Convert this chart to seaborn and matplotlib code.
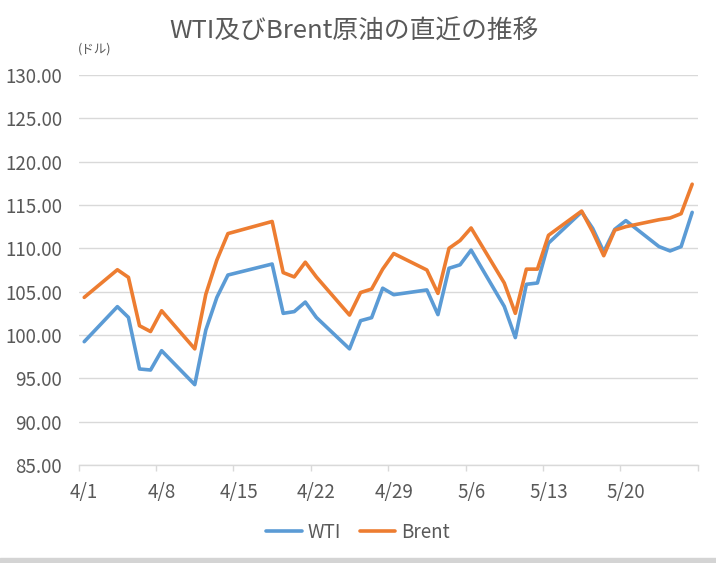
import pandas as pd
import numpy as np
import matplotlib
matplotlib.use("Agg")
import matplotlib.pyplot as plt
import matplotlib.dates as mdates
import seaborn as sns

# Trading days shown on the chart (4/15 is missing in the source data)
dates = ["2022-04-01", "2022-04-04", "2022-04-05", "2022-04-06", "2022-04-07", "2022-04-08",
         "2022-04-11", "2022-04-12", "2022-04-13", "2022-04-14",
         "2022-04-18", "2022-04-19", "2022-04-20", "2022-04-21", "2022-04-22",
         "2022-04-25", "2022-04-26", "2022-04-27", "2022-04-28", "2022-04-29",
         "2022-05-02", "2022-05-03", "2022-05-04", "2022-05-05", "2022-05-06",
         "2022-05-09", "2022-05-10", "2022-05-11", "2022-05-12", "2022-05-13",
         "2022-05-16", "2022-05-17", "2022-05-18", "2022-05-19", "2022-05-20",
         "2022-05-23", "2022-05-24", "2022-05-25", "2022-05-26"]

wti = [99.23, 103.27, 102.03, 96.08, 95.96, 98.19,
       94.27, 100.57, 104.34, 106.92,
       108.19, 102.5, 102.7, 103.8, 102.03,
       98.4, 101.65, 102.0, 105.4, 104.65,
       105.2, 102.35, 107.7, 108.1, 109.8,
       103.3, 99.7, 105.85, 106.0, 110.6,
       114.2, 112.3, 109.6, 112.2, 113.2,
       110.2, 109.7, 110.2, 114.15]

brent = [104.34, 107.53, 106.65, 101.07, 100.4, 102.8,
         98.4, 104.7, 108.65, 111.7,
         113.1, 107.2, 106.7, 108.4, 106.7,
         102.3, 104.9, 105.3, 107.6, 109.4,
         107.5, 104.8, 110.0, 110.9, 112.35,
         106.0, 102.5, 107.6, 107.6, 111.5,
         114.3, 111.9, 109.15, 112.1, 112.5,
         113.3, 113.5, 114.0, 117.4]

series_names = ["WTI", "Brent"]
colors = ["#5B9BD5", "#ED7D31"]
title = "WTI及びBrent原油の直近の推移"
unit = "(ドル)"
yticks = [85, 90, 95, 100, 105, 110, 115, 120, 125, 130]
xtick_labels = ["4/1", "4/8", "4/15", "4/22", "4/29", "5/6", "5/13", "5/20"]

df = pd.DataFrame({"date": pd.to_datetime(dates), "WTI": wti, "Brent": brent})
long_df = df.melt(id_vars="date", var_name="series", value_name="price")

sns.set_theme(style="white")
plt.rcParams["font.family"] = ["Noto Sans CJK JP", "DejaVu Sans"]
text_color = "#595959"
grid_color = "#D9D9D9"

fig = plt.figure(figsize=(7.16, 5.63), dpi=100)
ax = fig.add_axes([78.7 / 716, 98 / 563, 619 / 716, 390 / 563])

sns.lineplot(data=long_df, x="date", y="price", hue="series", hue_order=series_names,
             palette=colors, linewidth=2.6, ax=ax, legend=False)

# y axis
ax.set_ylim(85, 130)
ax.set_yticks(yticks)
ax.set_yticklabels([f"{v:.2f}" for v in yticks])
ax.yaxis.grid(True, color=grid_color, linewidth=1)
ax.set_axisbelow(True)

# x axis: date slots, labels centred in the slot, ticks at slot edges
first = pd.Timestamp("2022-04-01")
last = pd.Timestamp("2022-05-26")
half = pd.Timedelta(hours=12)
ax.set_xlim(first - half, last + half)
label_pos = [first + pd.Timedelta(days=7 * i) for i in range(len(xtick_labels))]
ax.set_xticks(label_pos)
ax.set_xticklabels(xtick_labels)
edge_pos = [first - half + pd.Timedelta(days=7 * i) for i in range(len(xtick_labels) + 1)]
ax.set_xticks(edge_pos, minor=True)

ax.tick_params(axis="x", which="major", length=0, pad=12, labelsize=13.5, labelcolor=text_color)
ax.tick_params(axis="x", which="minor", length=4, width=1, color=grid_color, direction="out", bottom=True)
ax.tick_params(axis="y", length=0, pad=12, labelsize=13.5, labelcolor=text_color)

for side in ["left", "right", "top"]:
    ax.spines[side].set_visible(False)
ax.spines["bottom"].set_color(grid_color)
ax.spines["bottom"].set_linewidth(1)
ax.set_xlabel("")
ax.set_ylabel("")

# title and unit
fig.text(0.494, 1 - 32 / 563, title, ha="center", va="center", fontsize=18.5, color=text_color)
fig.text(78 / 716, 1 - 49 / 563, unit, ha="left", va="center", fontsize=9, color=text_color)

# legend
handles = [plt.Line2D([], [], color=c, linewidth=2.6) for c in colors]
fig.legend(handles, series_names, loc="center", bbox_to_anchor=(0.5, 1 - 532 / 563), ncol=2,
           frameon=False, fontsize=13.5, handlelength=1.9, handletextpad=0.3, columnspacing=1.0,
           labelcolor=text_color)

# grey strip at the bottom edge of the screenshot
fig.patches.append(plt.Rectangle((0, 0), 1, 5 / 563, transform=fig.transFigure,
                                 color="#D4D4D4", zorder=0))

fig.savefig("out.png", dpi=100)
